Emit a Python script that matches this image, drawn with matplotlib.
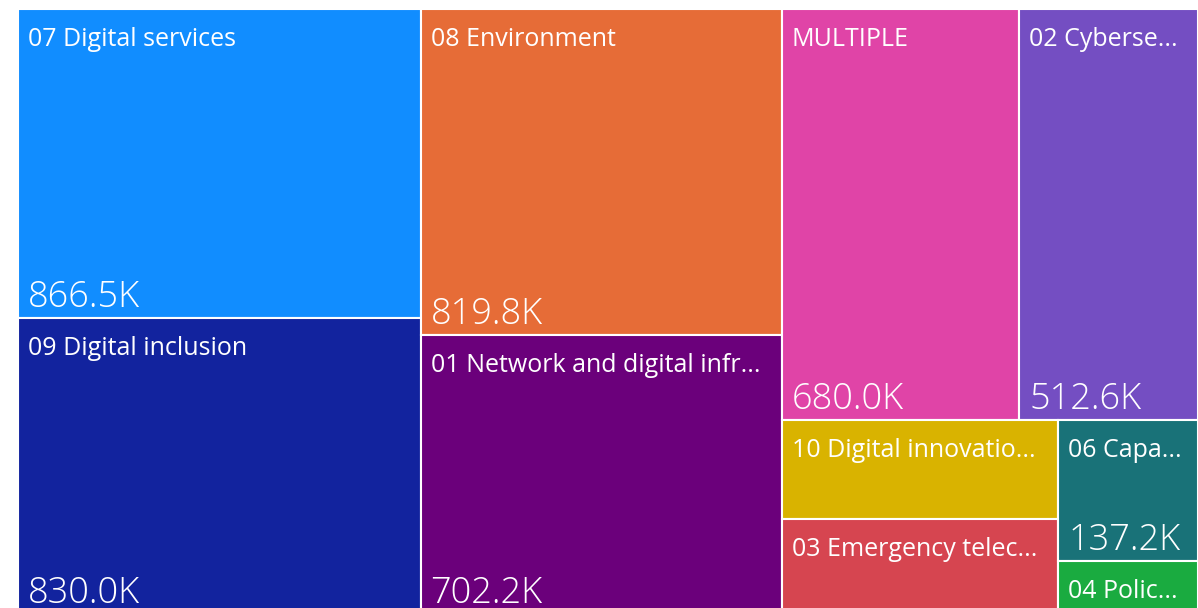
import matplotlib
matplotlib.use("Agg")
import matplotlib.pyplot as plt
from matplotlib.patches import Rectangle

# ---- data (values in thousands) ----
categories = ["07 Digital services", "09 Digital inclusion", "08 Environment",
              "01 Network and digital infr...", "MULTIPLE", "02 Cyberse...",
              "10 Digital innovatio...", "03 Emergency telec...", "06 Capa...",
              "04 Polic..."]
values = [866.5, 830.0, 819.8, 702.2, 680.0, 512.6, 190.5, 182.0, 137.2, 51.5]
colors = ["#118DFF", "#12239E", "#E66C37", "#6B007B", "#E044A7", "#744EC2",
          "#D9B300", "#D64550", "#197278", "#1AAB40"]

PHI = (1 + 5 ** 0.5) / 2


def squarify(vals, x0, y0, x1, y1, ratio=PHI):
    """d3-style squarified treemap layout (golden-ratio target)."""
    rects = []
    n = len(vals)
    i0 = i1 = 0
    value = sum(vals)
    while i0 < n:
        dx, dy = x1 - x0, y1 - y0
        sum_v = vals[i1]
        i1 += 1
        min_v = max_v = sum_v
        alpha = max(dy / dx, dx / dy) / (value * ratio)
        beta = sum_v * sum_v * alpha
        min_ratio = max(max_v / beta, beta / min_v)
        while i1 < n:
            nv = vals[i1]
            sum_v += nv
            min_v = min(min_v, nv)
            max_v = max(max_v, nv)
            beta = sum_v * sum_v * alpha
            new_ratio = max(max_v / beta, beta / min_v)
            if new_ratio > min_ratio:
                sum_v -= nv
                break
            min_ratio = new_ratio
            i1 += 1
        row = vals[i0:i1]
        if dx < dy:  # dice: row across the top
            ny = y0 + dy * sum_v / value
            xx = x0
            for v in row:
                w = (x1 - x0) * v / sum_v
                rects.append((xx, y0, w, ny - y0))
                xx += w
            y0 = ny
        else:  # slice: column at the left
            nx = x0 + dx * sum_v / value
            yy = y0
            for v in row:
                h = (y1 - y0) * v / sum_v
                rects.append((x0, yy, nx - x0, h))
                yy += h
            x0 = nx
        value -= sum_v
        i0 = i1
    return rects


W, H = 1198, 608
fig = plt.figure(figsize=(W / 100, H / 100), dpi=100)
ax = fig.add_axes([0, 0, 1, 1])
ax.set_xlim(0, W)
ax.set_ylim(H, 0)
ax.axis("off")

rects = squarify(values, 18, 8.5, 1198, 614)
font = "Open Sans"
for (rx, ry, rw, rh), cat, val, col in zip(rects, categories, values, colors):
    ax.add_patch(Rectangle((rx, ry), rw, rh, facecolor=col, edgecolor="white",
                           linewidth=1.5))
    ax.text(rx + 10, ry + 37, cat, color="white", fontsize=18.0, family=font,
            weight="normal", va="baseline", ha="left", clip_on=True)
    if rh >= 120:
        ax.text(rx + 10, ry + rh - 11, f"{val:.1f}K", color="white",
                fontsize=26, family=font, weight="light", va="baseline",
                ha="left", clip_on=True)

fig.savefig("out.png", dpi=100, facecolor="white")
